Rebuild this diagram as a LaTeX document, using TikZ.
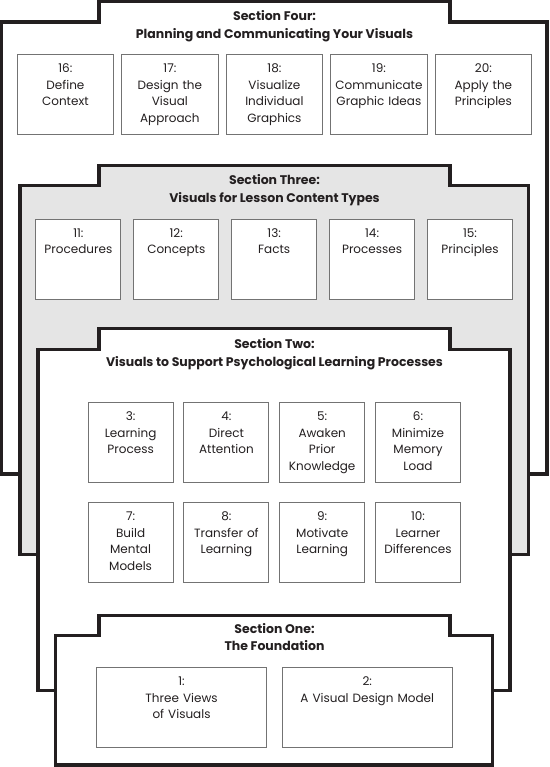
\documentclass[tikz,border=0pt]{standalone}
\usepackage{fontspec}
\setmainfont{Poppins}
\usetikzlibrary{matrix,positioning}

\definecolor{inkblack}{HTML}{231F20}
\definecolor{panelgray}{HTML}{E5E5E5}

\tikzset{
  section/.style={
    % The border:
    line width=3.3pt,
    draw=inkblack,
    % The filling:
    fill=white},
  sectiontitle/.style={
    align=center,
    text=inkblack,
    % Font
    font=\bfseries\fontsize{12.5}{17.5}\selectfont},
  chapter/.style={
    % The shape:
    rectangle,
    % The border:
    line width=1pt,
    draw=black!55,
    fill=white,
    % The text sits at the top of the box:
    align=center,
    inner xsep=3pt, inner ysep=8pt,
    text height=10pt, text depth=54pt,
    text=inkblack,
    % Font
    font=\fontsize{12}{16.5}\selectfont}
}

\begin{document}
\begin{tikzpicture}[x=1pt,y=-1pt]
  \useasboundingbox (0,0) rectangle (549,767);

  % Section Four
  \draw[section] (1.5,474) |- (99,22) |- (450,1.5) |- (547,22) -- (547,474) -- cycle;
  \node (s4title) [sectiontitle] at (274.5,26) {Section Four:\\Planning and Communicating Your Visuals};
  \matrix (s4row) [ampersand replacement=\&,column sep=6.8pt,nodes={chapter,text width=90.7pt}] at (274.4,95) {
    \node (ch16) {16:\\Define\\Context};                 \&
    \node (ch17) {17:\\Design the\\Visual\\Approach};     \&
    \node (ch18) {18:\\Visualize\\Individual\\Graphics};  \&
    \node (ch19) {19:\\Communicate\\Graphic Ideas};       \&
    \node (ch20) {20:\\Apply the\\Principles};\\
  };

  % Section Three
  \draw[section,fill=panelgray] (20,554.5) |- (99,185.5) |- (450,165.5) |- (528.5,185.5) -- (528.5,554.5) -- cycle;
  \node (s3title) [sectiontitle] at (274.5,190) {Section Three:\\Visuals for Lesson Content Types};
  \matrix (s3row) [ampersand replacement=\&,column sep=11.9pt,nodes={chapter,text width=79pt}] at (274.2,259) {
    \node (ch11) {11:\\Procedures}; \&
    \node (ch12) {12:\\Concepts};   \&
    \node (ch13) {13:\\Facts};      \&
    \node (ch14) {14:\\Processes};  \&
    \node (ch15) {15:\\Principles};\\
  };

  % Section Two
  \draw[section] (38,690.5) |- (99,349.5) |- (450,328.5) |- (510,349.5) -- (510,690.5) -- cycle;
  \node (s2title) [sectiontitle] at (274.5,354) {Section Two:\\Visuals to Support Psychological Learning Processes};
  \matrix (s2rows) [ampersand replacement=\&,column sep=9.8pt,row sep=19pt,nodes={chapter,text width=79pt}] at (274.3,492.8) {
    \node (ch3)  {3:\\Learning\\Process};          \&
    \node (ch4)  {4:\\Direct\\Attention};          \&
    \node (ch5)  {5:\\Awaken\\Prior\\Knowledge};   \&
    \node (ch6)  {6:\\Minimize\\Memory\\Load};\\
    \node (ch7)  {7:\\Build\\Mental\\Models};      \&
    \node (ch8)  {8:\\Transfer of\\Learning};      \&
    \node (ch9)  {9:\\Motivate\\Learning};         \&
    \node (ch10) {10:\\Learner\\Differences};\\
  };

  % Section One
  \draw[section] (55.5,765) |- (99,635.5) |- (450,615.5) |- (492.5,635.5) -- (492.5,765) -- cycle;
  \node (s1title) [sectiontitle] at (274.5,637) {Section One:\\The Foundation};
  \matrix (s1row) [ampersand replacement=\&,column sep=14.7pt,nodes={chapter,text width=164pt}] at (274.4,707.5) {
    \node (ch1) {1:\\Three Views\\of Visuals};     \&
    \node (ch2) {2:\\A Visual Design Model};\\
  };
\end{tikzpicture}
\end{document}
